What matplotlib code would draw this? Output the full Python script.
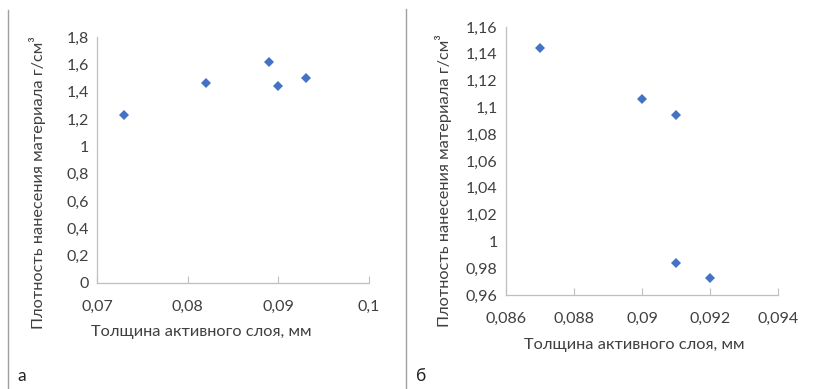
import matplotlib
matplotlib.use("Agg")
import matplotlib.pyplot as plt
from matplotlib.lines import Line2D

plt.rcParams['font.family'] = ['Lato', 'DejaVu Sans']

# panel а
thick_a = [0.073, 0.082, 0.089, 0.090, 0.093]
dens_a = [1.23, 1.46, 1.62, 1.44, 1.50]
xticks_a = [0.07, 0.08, 0.09, 0.1]
xlabels_a = ['0,07', '0,08', '0,09', '0,1']
yticks_a = [0, 0.2, 0.4, 0.6, 0.8, 1, 1.2, 1.4, 1.6, 1.8]
ylabels_a = ['0', '0,2', '0,4', '0,6', '0,8', '1', '1,2', '1,4', '1,6', '1,8']

# panel б
thick_b = [0.087, 0.090, 0.091, 0.091, 0.092]
dens_b = [1.144, 1.106, 1.094, 0.984, 0.973]
xticks_b = [0.086, 0.088, 0.09, 0.092, 0.094]
xlabels_b = ['0,086', '0,088', '0,09', '0,092', '0,094']
yticks_b = [0.96, 0.98, 1, 1.02, 1.04, 1.06, 1.08, 1.1, 1.12, 1.14, 1.16]
ylabels_b = ['0,96', '0,98', '1', '1,02', '1,04', '1,06', '1,08', '1,1', '1,12', '1,14', '1,16']

xtitle = 'Толщина активного слоя, мм'
ytitle = 'Плотность нанесения материала г/см³'

W, H = 816, 389
fig = plt.figure(figsize=(W / 100, H / 100), dpi=100)
fig.patch.set_facecolor('white')

def px(l, t, r, b):
    return [l / W, (H - b) / H, (r - l) / W, (b - t) / H]

axis_col = '#BFBFBF'
text_col = '#404040'

def style(ax, box, x, y, xt, xl, yt, yl, xlab_pos, ylab_pos):
    l, t, r, b = box
    ax.plot(x, y, 'D', color='#4472C4', markersize=5, markeredgewidth=0)
    ax.set_xlim(xt[0], xt[-1])
    ax.set_ylim(yt[0], yt[-1])
    ax.set_xticks(xt)
    ax.set_xticklabels(xl)
    ax.set_yticks(yt)
    ax.set_yticklabels(yl)
    for s in ['top', 'right']:
        ax.spines[s].set_visible(False)
    for s in ['left', 'bottom']:
        ax.spines[s].set_color(axis_col)
        ax.spines[s].set_linewidth(0.9)
    ax.tick_params(axis='x', direction='in', length=5, color=axis_col,
                   labelsize=11.5, labelcolor=text_col, pad=12)
    ax.tick_params(axis='y', direction='in', length=0, color=axis_col,
                   labelsize=11.5, labelcolor=text_col, pad=6)
    ax.set_xlabel(xtitle, fontsize=11.8, color=text_col, va='center')
    ax.set_ylabel(ytitle, fontsize=11.8, color=text_col, va='center')
    # label centres given in pixels, converted to axes fractions
    ax.xaxis.set_label_coords((xlab_pos[0] - l) / (r - l), (b - xlab_pos[1]) / (b - t))
    ax.yaxis.set_label_coords((ylab_pos[0] - l) / (r - l), (b - ylab_pos[1]) / (b - t))

box1 = (97, 37, 369, 283)
ax1 = fig.add_axes(px(*box1))
style(ax1, box1, thick_a, dens_a, xticks_a, xlabels_a, yticks_a, ylabels_a,
      (201, 332), (37, 183))

box2 = (506, 27, 778, 295)
ax2 = fig.add_axes(px(*box2))
style(ax2, box2, thick_b, dens_b, xticks_b, xlabels_b, yticks_b, ylabels_b,
      (634, 345), (443, 181))

# separators between panels
fig.add_artist(Line2D([8 / W, 8 / W], [0, 1 - 10 / H], color='#A0A0A0', linewidth=1))
fig.add_artist(Line2D([406 / W, 406 / W], [0, 1 - 9 / H], color='#A0A0A0', linewidth=1))

fig.text(17 / W, 1 - 376 / H, 'а', fontsize=12.5, color='#202020', va='center')
fig.text(416 / W, 1 - 376 / H, 'б', fontsize=12.5, color='#202020', va='center')

fig.savefig('out.png', dpi=100)
